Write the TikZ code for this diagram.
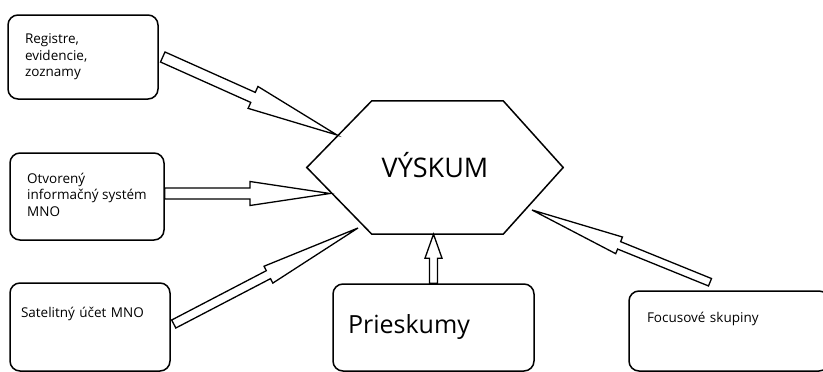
\documentclass[tikz,border=0pt]{standalone}
\usepackage{fontspec}
\setmainfont{Open Sans}
\usepackage{tikz}
\usetikzlibrary{calc}
\pgfdeclarelayer{edgelayer}
\pgfdeclarelayer{nodelayer}
\pgfsetlayers{edgelayer,nodelayer,main}
\tikzstyle{none}=[inner sep=0pt]
\tikzstyle{source}=[draw, line width=1.5pt, rounded corners=10pt, align=left, inner ysep=0pt, font=\fontsize{13.5}{16.5}\selectfont]
\tikzstyle{hexagon}=[draw, line width=1.5pt, line join=miter]
\tikzstyle{blockarrow}=[draw, line width=1.3pt, fill=white, line join=miter]
\newcommand{\blockarrow}[5]{%
	\coordinate (hb) at ($(#2)!#3!(#1)$);
	\draw [style=blockarrow] ($(#1)!#4!90:(#2)$) -- ($(hb)!#4!90:(#2)$) -- ($(hb)!#5!90:(#2)$) -- (#2) -- ($(hb)!#5!-90:(#2)$) -- ($(hb)!#4!-90:(#2)$) -- ($(#1)!#4!-90:(#2)$) -- cycle;}

\begin{document}
\begin{tikzpicture}[x=1pt, y=-1pt]
	\useasboundingbox (0, 0) rectangle (823, 372);
	\begin{pgfonlayer}{nodelayer}
		\node [style=source, minimum height=84pt, text width=116pt, inner xsep=17pt] (reg) at (83, 57) {Registre,\\evidencie,\\zoznamy};
		\node [style=source, minimum height=87pt, minimum width=154pt, text depth=4pt] (otv) at (87, 196.5) {Otvorený\\informačný systém\\MNO};
		\node [style=source, minimum height=88pt, text width=138pt, inner xsep=11pt, text height=10pt, text depth=30pt] (sat) at (90, 327) {Satelitný účet MNO};
		\node [style=source, minimum height=87pt, text width=171pt, inner xsep=15pt, font=\fontsize{25}{30}\selectfont] (pri) at (433.5, 327.5) {Prieskumy};
		\node [style=source, minimum height=80pt, text width=164pt, inner xsep=18pt, text height=10pt, text depth=28pt] (foc) at (729, 331) {Focusové skupiny};
		\node [style=none, minimum width=256pt, minimum height=133pt, font=\fontsize{27}{32}\selectfont, text height=19.5pt, text depth=0pt] (vyskum) at (435, 167.5) {VÝSKUM};
		\draw [style=hexagon] ([xshift=65pt]vyskum.north west) -- ([xshift=-60pt]vyskum.north east) -- (vyskum.east) -- ([xshift=-60pt]vyskum.south east) -- ([xshift=65pt]vyskum.south west) -- (vyskum.west) -- cycle;
	\end{pgfonlayer}
	\begin{pgfonlayer}{edgelayer}
		\coordinate (regout) at ([xshift=4pt]reg.east);
		\coordinate (otvout) at ([yshift=3pt]otv.east);
		\coordinate (satout) at ([xshift=3pt, yshift=3pt]sat.east);
		\coordinate (focout) at ([xshift=-19pt, yshift=8pt]foc.north);
		\coordinate (regin) at (337, 135);
		\coordinate (otvin) at (330, 193.5);
		\coordinate (satin) at (358, 228);
		\coordinate (priin) at (pri.north |- vyskum.south);
		\coordinate (focin) at (532, 210);
		\blockarrow{regout}{regin}{92pt}{5.5pt}{12pt}
		\blockarrow{otvout}{otvin}{80pt}{5.5pt}{12pt}
		\blockarrow{satout}{satin}{101pt}{4.5pt}{9.5pt}
		\blockarrow{pri.north}{priin}{24pt}{4pt}{8.5pt}
		\blockarrow{focout}{focin}{94pt}{4pt}{9pt}
	\end{pgfonlayer}
\end{tikzpicture}
\end{document}
